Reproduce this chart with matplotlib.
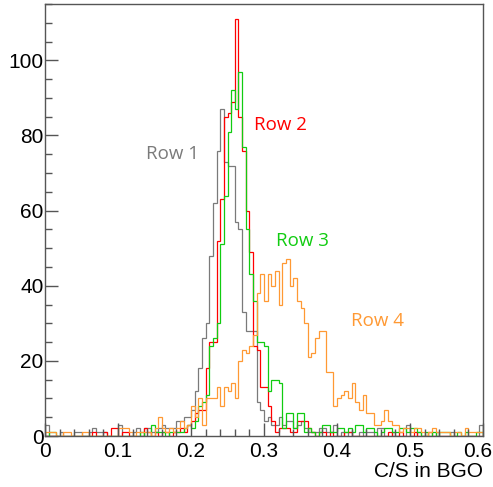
import numpy as np
import matplotlib
matplotlib.use("Agg")
import matplotlib.pyplot as plt
import matplotlib.transforms as mtransforms
from matplotlib.ticker import MultipleLocator

# Histogram binning: 120 bins from 0 to 0.6
x_lo, x_hi, n_bins = 0.0, 0.6, 120
edges = np.linspace(x_lo, x_hi, n_bins + 1)

def expand(sparse, n=n_bins):
    arr = np.zeros(n)
    for k, v in sparse.items():
        arr[k] = v
    return arr

row1_counts = expand({
    0: 3, 4: 1, 8: 1, 9: 1, 12: 1, 13: 2, 14: 1, 15: 1, 16: 1, 20: 3,
    24: 1, 25: 2, 27: 2, 28: 2, 29: 1, 30: 1, 31: 2, 32: 3, 33: 2, 34: 2,
    35: 2, 36: 4, 37: 4, 38: 5, 39: 5, 40: 7, 41: 12, 42: 18, 43: 26, 44: 30,
    45: 48, 46: 62, 47: 76, 48: 87, 49: 73, 50: 72, 51: 72, 52: 57, 53: 55,
    54: 33, 55: 28, 56: 28, 57: 28, 58: 9, 59: 7, 60: 4, 61: 5, 62: 3, 63: 3,
    64: 5, 65: 3, 66: 4, 67: 4, 68: 2, 69: 3, 70: 4, 71: 2, 72: 1, 73: 1,
    74: 1, 75: 2, 76: 2, 77: 1, 78: 1, 79: 3, 81: 1, 83: 1, 86: 1, 88: 1,
    89: 1, 91: 2, 92: 2, 95: 1, 99: 3, 102: 1, 107: 1, 111: 1, 119: 3,
})

row2_counts = expand({
    13: 1, 16: 1, 18: 2, 19: 2, 21: 1, 22: 1, 27: 2, 28: 1, 30: 1, 32: 1,
    33: 1, 35: 1, 36: 1, 37: 2, 38: 1, 39: 3, 40: 4, 41: 6, 42: 7, 43: 7,
    44: 18, 45: 25, 46: 25, 47: 52, 48: 63, 49: 85, 50: 86, 51: 89, 52: 111,
    53: 85, 54: 76, 55: 60, 56: 49, 57: 24, 58: 23, 59: 13, 60: 13, 61: 8,
    62: 4, 63: 1, 64: 2, 65: 2, 66: 2, 67: 1, 68: 1, 69: 4, 70: 4, 71: 4,
    72: 2, 73: 1, 75: 1, 76: 1, 78: 1, 82: 1, 83: 1, 94: 1, 97: 1, 101: 1,
    105: 1,
})

row3_counts = expand({
    1: 1, 2: 1, 26: 1, 29: 3, 30: 1, 31: 1, 32: 1, 34: 1, 35: 1, 36: 1,
    37: 1, 38: 2, 39: 3, 40: 2, 41: 4, 42: 8, 43: 9, 44: 11, 45: 24, 46: 26,
    47: 30, 48: 51, 49: 64, 50: 81, 51: 92, 52: 87, 53: 97, 54: 77, 55: 55,
    56: 43, 57: 36, 58: 25, 59: 25, 60: 24, 61: 12, 62: 15, 63: 15, 64: 14,
    65: 2, 66: 6, 67: 6, 68: 2, 69: 6, 70: 6, 71: 1, 72: 2, 73: 1, 75: 1,
    76: 3, 77: 3, 78: 1, 79: 1, 80: 2, 81: 2, 82: 1, 83: 2, 84: 1, 85: 3,
    86: 3, 87: 1, 88: 2, 89: 2, 90: 1, 92: 1, 93: 2, 94: 2, 95: 1, 96: 1,
    97: 2, 98: 2, 99: 1, 100: 2, 101: 2, 102: 1, 104: 1, 106: 1, 108: 1,
    109: 1, 110: 1, 113: 1, 115: 1, 118: 1, 119: 1,
})

row4_counts = expand({
    0: 1, 1: 1, 2: 1, 5: 1, 6: 1, 10: 1, 11: 1, 20: 2, 21: 2, 22: 2, 23: 1,
    25: 1, 26: 1, 27: 1, 28: 1, 30: 2, 31: 5, 32: 2, 33: 1, 34: 2, 35: 1,
    36: 2, 37: 4, 38: 2, 39: 3, 40: 8, 41: 5, 42: 10, 43: 3, 44: 10, 45: 10,
    46: 10, 47: 13, 48: 8, 49: 13, 50: 12, 51: 14, 52: 10, 53: 20, 54: 23,
    55: 22, 56: 24, 57: 27, 58: 38, 59: 43, 60: 36, 61: 43, 62: 40, 63: 44,
    64: 35, 65: 46, 66: 47, 67: 40, 68: 42, 69: 36, 70: 34, 71: 30, 72: 21,
    73: 22, 74: 26, 75: 28, 76: 28, 77: 17, 78: 17, 79: 8, 80: 10, 81: 11,
    82: 12, 83: 10, 84: 14, 85: 9, 86: 7, 87: 11, 88: 6, 89: 6, 90: 3, 91: 3,
    92: 4, 93: 7, 94: 4, 95: 3, 96: 3, 97: 1, 98: 2, 99: 2, 100: 1, 101: 2,
    102: 2, 103: 1, 105: 1, 106: 2, 107: 1, 108: 1, 109: 1, 110: 1, 112: 1,
    113: 1, 115: 2, 116: 1, 117: 1, 118: 1, 119: 1,
})

series_labels = ["Row 1", "Row 2", "Row 3", "Row 4"]
series_colors = ["#7a7a7a", "#ff0000", "#11cc11", "#ff9933"]
label_pos = [(0.174, 75.0), (0.322, 82.7), (0.353, 52.0), (0.455, 30.7)]

x_tick_values = [0.0, 0.1, 0.2, 0.3, 0.4, 0.5, 0.6]
x_tick_labels = ["0", "0.1", "0.2", "0.3", "0.4", "0.5", "0.6"]
x_label = "C/S in BGO"
y_max = 115.0

fig = plt.figure(figsize=(4.93, 4.87), dpi=100)
ax = fig.add_axes([45 / 493, 1 - 436 / 487, 438 / 493, 432 / 487])

for counts, color in zip([row1_counts, row2_counts, row3_counts, row4_counts],
                         series_colors):
    ax.stairs(counts, edges, color=color, linewidth=0.9, baseline=0)

for text, (tx, ty), color in zip(series_labels, label_pos, series_colors):
    ax.text(tx, ty, text, color=color, fontsize=13.5, family="Open Sans",
            ha="center", va="center")

ax.set_xlim(x_lo, x_hi)
ax.set_ylim(0, y_max)

ax.set_xticks(x_tick_values)
ax.set_xticklabels(x_tick_labels)
ax.xaxis.set_minor_locator(MultipleLocator(0.02))
ax.yaxis.set_major_locator(MultipleLocator(20))
ax.yaxis.set_minor_locator(MultipleLocator(5))

frame_color = "#555555"
for sp in ax.spines.values():
    sp.set_color(frame_color)
    sp.set_linewidth(1.0)

ax.tick_params(which="both", direction="in", top=False, right=False,
               color=frame_color, labelsize=15)
ax.tick_params(which="major", length=9.5, width=1.0)
ax.tick_params(which="minor", length=5, width=1.0)
ax.tick_params(axis="x", which="major", pad=4)
ax.tick_params(axis="y", which="major", pad=1)
for lab in ax.get_xticklabels() + ax.get_yticklabels():
    lab.set_family("Liberation Sans")

# keep the last x tick label inside the canvas
last = ax.get_xticklabels()[-1]
last.set_transform(last.get_transform() +
                   mtransforms.ScaledTranslation(-5.5 / 100, 0, fig.dpi_scale_trans))

ax.set_xlabel(x_label, loc="right", fontsize=15, family="Liberation Sans",
              labelpad=1)

fig.savefig("out.png", dpi=100)
